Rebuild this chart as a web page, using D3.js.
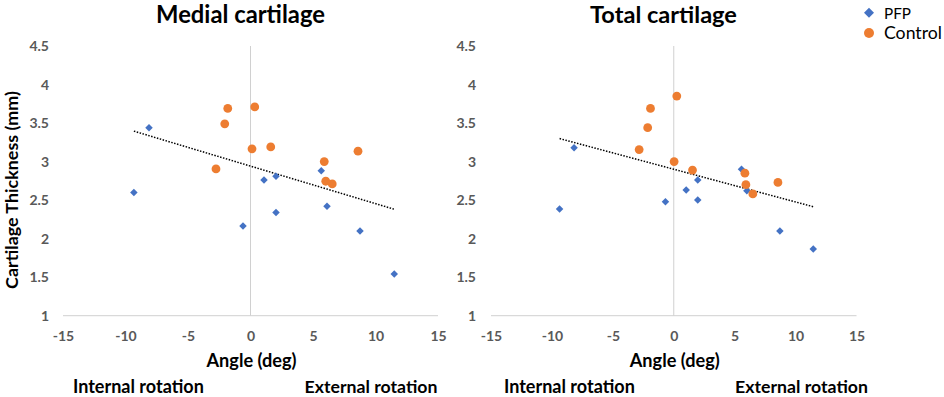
<!DOCTYPE html>
<html>
<head>
<meta charset="utf-8">
<script src="https://cdn.jsdelivr.net/npm/d3@7"></script>
<style>
  body { margin: 0; background: #fff; }
  svg { display: block; }
  .tick text { font-family: Lato, sans-serif; font-weight: 700; font-size: 14px; fill: #595959; }
</style>
</head>
<body>
<svg id="chart" width="944" height="397"></svg>
<script>
// angle (deg) / cartilage thickness (mm)
var medialPfpAngle = [-9.33, -8.12, -0.6, 1.08, 2.04, 2.04, 5.66, 6.12, 8.76, 11.5]
var medialPfpThick = [2.60, 3.44, 2.165, 2.76, 2.81, 2.34, 2.88, 2.42, 2.10, 1.54]
var medialCtrlAngle = [-1.82, 0.34, -2.06, 0.12, 1.62, -2.76, 5.9, 6.02, 6.54, 8.6]
var medialCtrlThick = [3.69, 3.71, 3.49, 3.165, 3.19, 2.905, 3.0, 2.745, 2.71, 3.135]

var totalPfpAngle = [-9.37, -8.18, -0.68, 1.02, 1.97, 1.97, 5.56, 6.0, 8.71, 11.45]
var totalPfpThick = [2.386, 3.18, 2.48, 2.63, 2.76, 2.50, 2.90, 2.62, 2.10, 1.866]
var totalCtrlAngle = [0.25, -1.91, -2.14, -2.84, 0.03, 1.54, 5.84, 5.92, 6.49, 8.55]
var totalCtrlThick = [3.85, 3.69, 3.44, 3.156, 3.0, 2.89, 2.85, 2.70, 2.58, 2.73]

var xTicks = [-15, -10, -5, 0, 5, 10, 15]
var yTicks = [1, 1.5, 2, 2.5, 3, 3.5, 4, 4.5]
var titles = ['Medial cartilage', 'Total cartilage']
var stats = ['r = -0.48, p = 0.033', 'r = -0.47, p = 0.035']
var seriesNames = ['PFP', 'Control']
var colors = ['#4472C4', '#ED7D31']

var svg = d3.select('#chart')
svg.append('rect').attr('width', 944).attr('height', 397).attr('fill', '#fff')

var diamond = d3.symbol().type(d3.symbolSquare).size(28)
var bigDiamond = d3.symbol().type(d3.symbolSquare).size(50)

/**
 * Adds a text and scales its font so that it is as wide as in the figure
 */
function label (parent, txt, x, y, width, weight, family, anchor) {
  var t = parent.append('text').attr('x', x).attr('y', y)
    .attr('text-anchor', anchor || 'start')
    .style('font-family', family || 'Lato, sans-serif')
    .style('font-weight', weight)
    .style('font-size', '16px')
    .attr('fill', '#000')
    .text(txt)
  var len = t.node().getComputedTextLength()
  t.style('font-size', (16 * width / len) + 'px')
  return t
}

/**
 * Least squares fit over every point of the panel (Excel linear trendline)
 */
function fitLine (xs, ys) {
  var mx = d3.mean(xs)
  var my = d3.mean(ys)
  var sxy = d3.sum(xs, (x, i) => (x - mx) * (ys[i] - my))
  var sxx = d3.sum(xs, x => (x - mx) * (x - mx))
  var slope = sxy / sxx
  return x => my + slope * (x - mx)
}

/**
 * Draws one scatter panel
 */
function drawPanel (p) {
  var x = d3.scaleLinear().domain([-15, 15]).range([p.left, p.right])
  var y = d3.scaleLinear().domain([1, 4.5]).range([315.7, 46])
  var g = svg.append('g')

  // axis lines
  g.append('line').attr('x1', x(-15)).attr('x2', x(15)).attr('y1', y(1)).attr('y2', y(1))
    .attr('stroke', '#d9d9d9').attr('stroke-width', 1.3)
  g.append('line').attr('x1', x(0)).attr('x2', x(0)).attr('y1', y(4.5)).attr('y2', y(1))
    .attr('stroke', '#d0d0d0').attr('stroke-width', 1)

  var xa = g.append('g').attr('transform', 'translate(0,' + y(1) + ')')
    .call(d3.axisBottom(x).tickValues(xTicks).tickSize(0).tickPadding(15).tickFormat(d => String(d)))
  xa.select('.domain').remove()
  var ya = g.append('g').attr('transform', 'translate(' + x(-15) + ',0)')
    .call(d3.axisLeft(y).tickValues(yTicks).tickSize(0).tickPadding(p.yPad).tickFormat(d => String(d)))
  ya.select('.domain').remove()

  // trendline over both groups
  var allX = p.pfpX.concat(p.ctrlX)
  var allY = p.pfpY.concat(p.ctrlY)
  var f = fitLine(allX, allY)
  var ext = d3.extent(allX)
  g.append('line')
    .attr('x1', x(ext[0])).attr('y1', y(f(ext[0])))
    .attr('x2', x(ext[1])).attr('y2', y(f(ext[1])))
    .attr('stroke', '#000').attr('stroke-width', 1.5).attr('stroke-dasharray', '1.5,1.5')

  g.selectAll('.pfp')
    .data(p.pfpX.map((a, i) => [a, p.pfpY[i]]))
    .join('path')
    .attr('d', diamond)
    .attr('transform', d => 'translate(' + x(d[0]) + ',' + y(d[1]) + ') rotate(45)')
    .attr('fill', colors[0])

  g.selectAll('.ctrl')
    .data(p.ctrlX.map((a, i) => [a, p.ctrlY[i]]))
    .join('circle')
    .attr('cx', d => x(d[0]))
    .attr('cy', d => y(d[1]))
    .attr('r', 4.4)
    .attr('fill', colors[1])

  label(g, p.title, p.titleX, 23, p.titleW, 700, null, 'middle')
  label(g, p.stat, p.statX, 65, 165, 700, '"Liberation Sans", Arial, sans-serif')
  label(g, 'Angle (deg)', x(0) + 1, 366.7, 90, 700, null, 'middle')
  label(g, 'Internal rotation', p.intX, 392.7, 131, 700)
  label(g, 'External rotation', p.extX, 392.7, 133, 700, null, 'end')
}

drawPanel({
  left: 63, right: 438, yPad: 14,
  pfpX: medialPfpAngle, pfpY: medialPfpThick, ctrlX: medialCtrlAngle, ctrlY: medialCtrlThick,
  title: titles[0], titleX: 240.5, titleW: 169, statX: 77, intX: 73, extX: 437.5
})
drawPanel({
  left: 491, right: 856.5, yPad: 15,
  pfpX: totalPfpAngle, pfpY: totalPfpThick, ctrlX: totalCtrlAngle, ctrlY: totalCtrlThick,
  title: titles[1], titleX: 663.5, titleW: 147, statX: 500, intX: 504, extX: 868
})

// y axis title
var yt = svg.append('g').attr('transform', 'translate(17.5,190) rotate(-90)')
label(yt, 'Cartilage Thickness (mm)', 0, 0, 198, 700, null, 'middle')

// legend
var leg = svg.append('g')
leg.append('path').attr('d', bigDiamond).attr('transform', 'translate(869,12.7) rotate(45)').attr('fill', colors[0])
leg.append('circle').attr('cx', 869).attr('cy', 33).attr('r', 5).attr('fill', colors[1])
label(leg, seriesNames[0], 884, 18.5, 27, 400)
label(leg, seriesNames[1], 884, 39, 58, 400)
</script>
</body>
</html>
